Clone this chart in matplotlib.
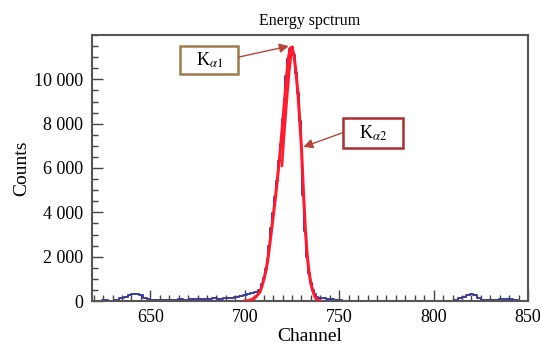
import matplotlib.pyplot as plt
from matplotlib.patches import Rectangle
from matplotlib.ticker import MultipleLocator

# measured spectrum (channel, counts)
blue_ch = [620, 623, 626, 629, 632, 635, 637, 639, 641, 643, 645, 647, 649, 651,
           654, 657, 660, 663, 666, 669, 672, 675, 678, 681, 684, 687, 690, 693,
           696, 698, 700, 702, 704, 706, 708, 709, 710, 711, 712, 713, 714, 715,
           716, 717, 718, 719, 720, 721, 722, 723, 724, 725, 726, 727, 728, 729,
           730, 731, 732, 733, 734, 735, 736, 737, 738, 740, 742, 744, 746, 748,
           750, 753, 756, 760, 765, 770, 775, 780, 785, 790, 795, 800, 805, 810,
           812, 814, 816, 818, 820, 822, 824, 826, 828, 830, 833, 836, 839, 841,
           843, 846, 850]
blue_counts = [20, 10, 30, 20, 60, 120, 200, 280, 330, 320, 260, 150, 80, 40,
               30, 50, 60, 40, 70, 60, 80, 70, 100, 90, 120, 110, 140, 150,
               200, 240, 260, 300, 350, 420, 500, 750, 1050, 1450, 1900, 2500, 3300, 3950,
               4700, 5400, 6300, 7100, 8200, 9100, 10150, 10900, 11350, 11400, 11100, 10300, 9400, 8100,
               6800, 4800, 3150, 2000, 1250, 800, 480, 300, 200, 150, 130, 100, 90, 60,
               40, 20, 10, 10, 5, 10, 0, 10, 5, 0, 10, 10, 5, 10,
               40, 120, 200, 280, 320, 260, 150, 60, 30, 40, 60, 70, 100, 90,
               40, 10, 0]

# fitted profile
fit_ch = [700, 702, 704, 706, 708, 709, 710, 711, 712, 713, 714, 715, 716, 717,
          718, 719, 720, 721, 722, 723, 724, 725, 726, 727, 728, 729, 730, 731,
          732, 733, 734, 735, 736, 737, 738, 739, 740]
fit_counts = [0, 20, 80, 200, 400, 650, 950, 1300, 1750, 2400, 3100, 3800, 4500, 5300,
              6100, 7000, 8000, 9000, 10000, 10900, 11400, 11450, 11100, 10400, 9500, 8300, 6900, 5000,
              3300, 2100, 1300, 800, 450, 220, 80, 20, 0]

# Ka1 component (upper part only)
ka1_ch = [719.7, 720.5, 721.5, 722.5, 723.5, 724.5, 725.3]
ka1_counts = [6100, 7100, 8200, 9300, 10300, 11100, 11450]

y_ticks = [0, 2000, 4000, 6000, 8000, 10000]
y_labels = ["0", "2 000", "4 000", "6 000", "8 000", "10 000"]
x_ticks = [650, 700, 750, 800, 850]

plt.rcParams['font.family'] = 'Liberation Serif'
plt.rcParams['mathtext.fontset'] = 'stix'

fig = plt.figure(figsize=(5.4, 3.5), dpi=100)
ax = fig.add_axes([0.170, 0.140, 0.808, 0.760])

ax.plot(blue_ch, blue_counts, color='#3a3a9c', lw=1.4, drawstyle='steps-mid', zorder=2)
ax.plot(fit_ch, fit_counts, color='#ff1a2e', lw=2.2, zorder=3)
ax.plot(ka1_ch, ka1_counts, color='#ff1a2e', lw=1.8, zorder=3)

ax.set_xlim(619, 850)
ax.set_ylim(0, 12000)
ax.set_xticks(x_ticks)
ax.set_yticks(y_ticks)
ax.set_yticklabels(y_labels)
ax.xaxis.set_minor_locator(MultipleLocator(5))
ax.yaxis.set_minor_locator(MultipleLocator(500))
ax.tick_params(which='both', direction='in', top=False, right=False,
               labelsize=13, color='#444444', width=1)
ax.tick_params(which='major', length=8, pad=6)
ax.tick_params(which='minor', length=4)
for sp in ax.spines.values():
    sp.set_color('#555555')
    sp.set_linewidth(1.5)

ax.set_xlabel("Channel", fontsize=14, labelpad=1)
ax.set_ylabel("Counts", fontsize=14, labelpad=3)
ax.set_title("Energy spctrum", fontsize=11.5, pad=7)

# label boxes
ax.add_patch(Rectangle((665.9, 10230), 30.7, 1260, fill=False,
                       edgecolor='#9c7c4c', lw=1.8, zorder=4))
ax.text(681.2, 10860, r'K$_{\alpha1}$', fontsize=13, ha='center', va='center')
ax.annotate('', xy=(723.3, 11500), xytext=(696.6, 11000),
            arrowprops=dict(arrowstyle='-|>', color='#b8453a', lw=1.0,
                            mutation_scale=14, shrinkA=0, shrinkB=0), zorder=5)

ax.add_patch(Rectangle((752.1, 6920), 31.8, 1320, fill=False,
                       edgecolor='#a83030', lw=1.8, zorder=4))
ax.text(768.0, 7580, r'K$_{\alpha2}$', fontsize=13, ha='center', va='center')
ax.annotate('', xy=(731.0, 6950), xytext=(752.1, 7600),
            arrowprops=dict(arrowstyle='-|>', color='#b8453a', lw=1.0,
                            mutation_scale=14, shrinkA=0, shrinkB=0), zorder=5)

fig.savefig("out.png", dpi=100)
